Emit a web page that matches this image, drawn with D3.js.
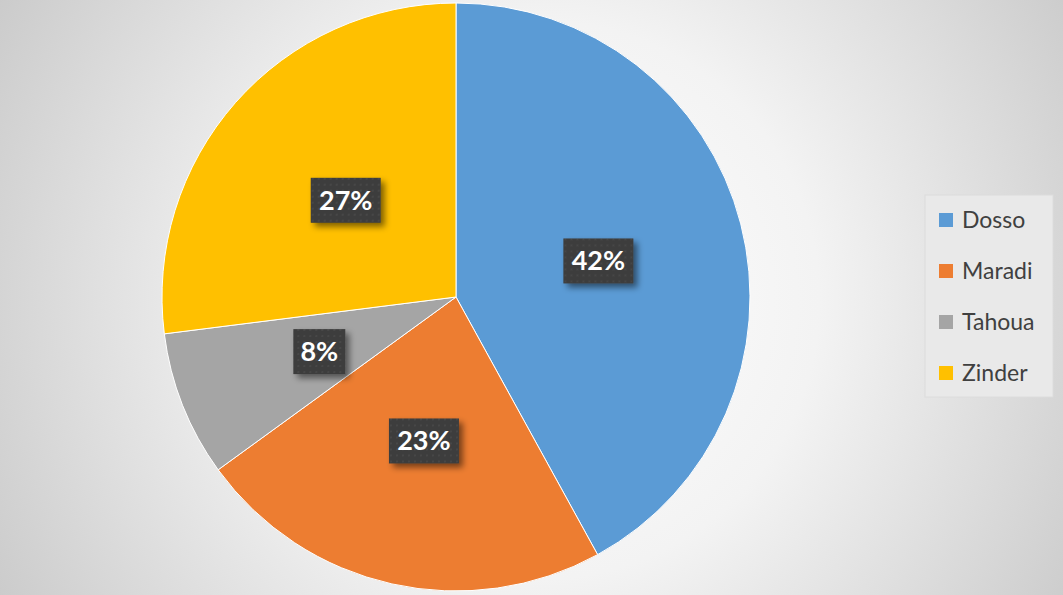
<!DOCTYPE html>
<html><head><meta charset="utf-8">
<script src="https://cdn.jsdelivr.net/npm/d3@7"></script>
<style>html,body{margin:0;padding:0;overflow:hidden;background:#fff}</style>
</head><body>
<svg id="chart" width="1063" height="595"></svg>
<script>
const categories = ["Dosso", "Maradi", "Tahoua", "Zinder"];
const values = [42, 23, 8, 27];
const colors = ["#5B9BD5", "#ED7D31", "#A5A5A5", "#FFC000"];

const svg = d3.select("#chart");
const W = 1063, H = 595;
const defs = svg.append("defs");
const grad = defs.append("radialGradient").attr("id", "bg")
  .attr("gradientUnits", "userSpaceOnUse")
  .attr("cx", 540).attr("cy", 300).attr("r", 620);
grad.append("stop").attr("offset", "0%").attr("stop-color", "#ffffff");
grad.append("stop").attr("offset", "45%").attr("stop-color", "#f3f3f3");
grad.append("stop").attr("offset", "100%").attr("stop-color", "#cbcbcb");
svg.append("rect").attr("width", W).attr("height", H).attr("fill", "url(#bg)");

const sh = defs.append("filter").attr("id", "shadow").attr("x", "-30%").attr("y", "-30%").attr("width", "170%").attr("height", "170%");
sh.append("feGaussianBlur").attr("in", "SourceAlpha").attr("stdDeviation", 3).attr("result", "b");
sh.append("feOffset").attr("in", "b").attr("dx", 4).attr("dy", 4).attr("result", "o");
sh.append("feComponentTransfer").attr("in", "o").attr("result", "o2")
  .append("feFuncA").attr("type", "linear").attr("slope", 0.5);
const m = sh.append("feMerge");
m.append("feMergeNode").attr("in", "o2");
m.append("feMergeNode").attr("in", "SourceGraphic");

const pat = defs.append("pattern").attr("id", "dots").attr("width", 6).attr("height", 6).attr("patternUnits", "userSpaceOnUse");
pat.append("rect").attr("width", 6).attr("height", 6).attr("fill", "#3d3d3d");
pat.append("circle").attr("cx", 3).attr("cy", 3).attr("r", 1).attr("fill", "#4a4a4a");

const cx = 456, cy = 297, R = 294;
const color = d3.scaleOrdinal().domain(categories).range(colors);
const pie = d3.pie().value((d, i) => values[i]).sort(null);
const arcs = pie(categories);
const arc = d3.arc().innerRadius(0).outerRadius(R);
const g = svg.append("g").attr("transform", `translate(${cx},${cy})`);
g.selectAll("path").data(arcs).join("path")
  .attr("d", arc).attr("fill", d => color(d.data))
  .attr("stroke", "#ffffff").attr("stroke-width", 1);

const lab = g.selectAll("g.lab").data(arcs).join("g").attr("class", "lab")
  .attr("transform", d => `translate(${arc.centroid(d)})`);
lab.append("rect")
  .attr("x", d => values[d.index] >= 10 ? -35 : -26)
  .attr("width", d => values[d.index] >= 10 ? 70 : 52)
  .attr("y", -22).attr("height", 45)
  .attr("fill", "url(#dots)").attr("filter", "url(#shadow)");
lab.append("text").attr("text-anchor", "middle").attr("dy", "0.36em")
  .attr("fill", "#ffffff").attr("font-family", "Lato, 'Open Sans', sans-serif")
  .attr("font-weight", "bold").attr("font-size", 27)
  .text(d => values[d.index] + "%");

const lg = svg.append("g").attr("transform", "translate(925,195)");
lg.append("rect").attr("width", 128).attr("height", 202)
  .attr("fill", "#e9e9e9").attr("stroke", "#dcdcdc").attr("stroke-width", 1);
const items = lg.selectAll("g.item").data(categories).join("g").attr("class", "item")
  .attr("transform", (d, i) => `translate(0,${25 + i * 51})`);
items.append("rect").attr("x", 14).attr("y", -7).attr("width", 14).attr("height", 14)
  .attr("fill", d => color(d));
items.append("text").attr("x", 37).attr("dy", "0.36em")
  .attr("fill", "#404040").attr("font-family", "Lato, 'Open Sans', sans-serif")
  .attr("font-size", 23).text(d => d);
</script>
</body></html>
